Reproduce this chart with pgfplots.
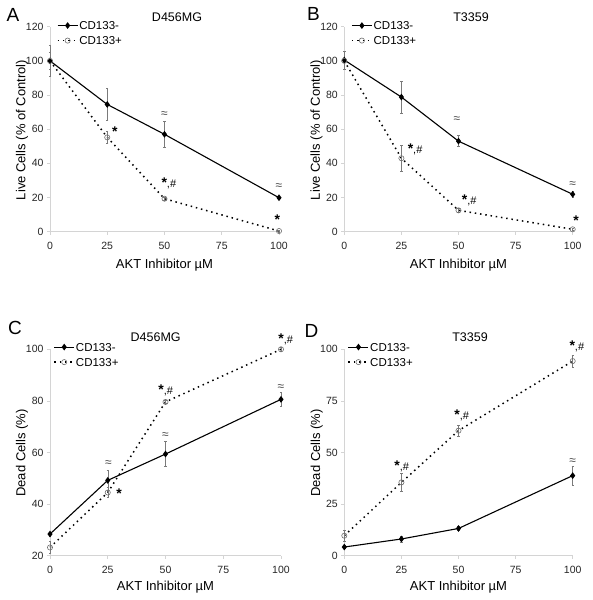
\documentclass[border=0pt]{standalone}
\usepackage{pgfplots}
\pgfplotsset{compat=1.18}
\usepackage{fontspec}
\setmainfont{Liberation Sans}
\definecolor{axgray}{HTML}{D4D4D4}
\definecolor{errgray}{HTML}{7A7A7A}
\definecolor{circgray}{HTML}{6E6E6E}
\newcommand\st{{\fontsize{14}{14}\selectfont\bfseries *}}
\newcommand\sh{\st{\fontsize{11}{11}\selectfont ,\#}}
\newcommand\ap{{\fontsize{12}{12}\selectfont\color{black!70}≈}}
\pgfplotsset{
 panel/.style={
  scale only axis, anchor=south west,
  xmin=0, xmax=100, xtick={0,25,50,75,100},
  axis x line*=bottom, axis y line*=left,
  axis line style={axgray, line width=0.8pt},
  tick style={axgray, line width=0.6pt},
  major tick length=3pt, tick align=outside,
  tick label style={font=\fontsize{10.5}{10.5}\selectfont, text=black!85},
  xticklabel style={yshift=-4pt},
  /pgf/number format/assume math mode=true,
  label style={font=\fontsize{13}{13}\selectfont},
  xlabel={AKT Inhibitor µM},
  clip=false,
  legend cell align=left,
  legend style={draw=none, fill=none, inner sep=0pt, outer sep=0pt,
    font=\fontsize{11.5}{11.5}\selectfont, row sep=5pt,
    nodes={inner sep=1pt, text depth=0pt}},
  legend image code/.code={\draw[mark repeat=2,mark phase=2,##1] plot coordinates {(0pt,0pt)(10pt,0pt)(20pt,0pt)};},
 },
 neg/.style={black, line width=1.1pt, mark=diamond*, mark size=2.5pt, mark options={solid, fill=black}},
 pos/.style={black, line width=1.5pt, dash pattern=on 1.5pt off 3.8pt, mark=o, mark size=2.6pt, mark options={solid, draw=circgray, fill=white, line width=0.6pt}},
 err/.style={error bars/.cd, y dir=both, y explicit, error bar style={errgray, line width=0.5pt, solid}, error mark options={rotate=90, mark size=1.2pt, errgray, line width=0.5pt}},
}
\pgfplotstableread{
x y e
0 100 9
25 74.5 9.5
50 57 7.5
100 19.9 1
}\Aneg
\pgfplotstableread{
x y e
0 100 5
25 55.2 3.6
50 19.3 1
100 0.4 0.5
}\Apos
\pgfplotstableread{
x y e
0 100.5 5.4
25 78.8 9.4
50 53 3.2
100 21.9 1.5
}\Bneg
\pgfplotstableread{
x y e
0 100 1
25 43 7.7
50 12.5 1
100 1.4 0.5
}\Bpos
\pgfplotstableread{
x y e
0 28.4 0.8
25 49.2 4
50 59.4 4.8
100 80.6 2.7
}\Cneg
\pgfplotstableread{
x y e
0 23.2 2.3
25 44.5 2
50 79.6 0.5
100 100 0.8
}\Cpos
\pgfplotstableread{
x y e
0 4.2 0.8
25 8.1 1.5
50 13.2 1
100 38.8 4.5
}\Dneg
\pgfplotstableread{
x y e
0 9.7 2.5
25 35.5 4.4
50 60.6 2.5
100 94.3 3
}\Dpos
\begin{document}
\begin{tikzpicture}[x=1pt,y=1pt]
\useasboundingbox (0pt,0pt) rectangle (592pt,600pt);
% Panel A
\begin{axis}[panel, at={(50pt,368.3pt)}, width=229pt, height=205pt,
  ymin=0, ymax=120, ytick={0,20,40,60,80,100,120},
  ylabel={Live Cells (\% of Control)},
  xlabel style={at={(axis description cs:0.5,-0.162)}, anchor=center},
  ylabel style={at={(axis description cs:-0.122,0.496)}, anchor=center},
  legend style={at={(axis description cs:0.03,1.03)}, anchor=north west}]
\addplot+[neg, err] table[x=x, y=y, y error=e] {\Aneg};
\addlegendentry{CD133-}
\addplot+[pos, err] table[x=x, y=y, y error=e] {\Apos};
\addlegendentry{CD133+}
\node at (axis cs:28.3,58.5) {\st};
\node at (axis cs:51.9,28.3) {\sh};
\node at (axis cs:99.3,6.8) {\st};
\node at (axis cs:50,68.3) {\ap};
\node at (axis cs:100,26.3) {\ap};
\end{axis}
% Panel B
\begin{axis}[panel, at={(344.3pt,368.3pt)}, width=228.4pt, height=205pt,
  ymin=0, ymax=120, ytick={0,20,40,60,80,100,120},
  ylabel={Live Cells (\% of Control)},
  xlabel style={at={(axis description cs:0.5,-0.162)}, anchor=center},
  ylabel style={at={(axis description cs:-0.122,0.496)}, anchor=center},
  legend style={at={(axis description cs:0.03,1.03)}, anchor=north west}]
\addplot+[neg, err] table[x=x, y=y, y error=e] {\Bneg};
\addlegendentry{CD133-}
\addplot+[pos, err] table[x=x, y=y, y error=e] {\Bpos};
\addlegendentry{CD133+}
\node at (axis cs:31,48.2) {\sh};
\node at (axis cs:54.7,18.5) {\sh};
\node at (axis cs:101.5,6.4) {\st};
\node at (axis cs:49.3,65.8) {\ap};
\node at (axis cs:100,27.7) {\ap};
\end{axis}
% Panel C
\begin{axis}[panel, at={(50pt,44.3pt)}, width=231pt, height=206.4pt,
  ymin=20, ymax=100, ytick={20,40,60,80,100},
  ylabel={Dead Cells (\%)},
  xlabel style={at={(axis description cs:0.5,-0.152)}, anchor=center},
  ylabel style={at={(axis description cs:-0.121,0.498)}, anchor=center},
  legend style={at={(axis description cs:0.015,1.035)}, anchor=north west}]
\addplot+[neg, err] table[x=x, y=y, y error=e] {\Cneg};
\addlegendentry{CD133-}
\addplot+[pos, err] table[x=x, y=y, y error=e] {\Cpos};
\addlegendentry{CD133+}
\node at (axis cs:29.9,44.2) {\st};
\node at (axis cs:50.1,84.2) {\sh};
\node at (axis cs:102,103.9) {\sh};
\node at (axis cs:25.3,55.8) {\ap};
\node at (axis cs:50,66.4) {\ap};
\node at (axis cs:100,85.2) {\ap};
\end{axis}
% Panel D
\begin{axis}[panel, at={(344.3pt,44.3pt)}, width=228.4pt, height=206.4pt,
  ymin=0, ymax=100, ytick={0,25,50,75,100},
  ylabel={Dead Cells (\%)},
  xlabel style={at={(axis description cs:0.5,-0.152)}, anchor=center},
  ylabel style={at={(axis description cs:-0.121,0.498)}, anchor=center},
  legend style={at={(axis description cs:0.015,1.035)}, anchor=north west}]
\addplot+[neg, err] table[x=x, y=y, y error=e] {\Dneg};
\addlegendentry{CD133-}
\addplot+[pos, err] table[x=x, y=y, y error=e] {\Dpos};
\addlegendentry{CD133+}
\node at (axis cs:25.1,43.1) {\sh};
\node at (axis cs:51.4,68.2) {\sh};
\node at (axis cs:101.8,101.3) {\sh};
\node at (axis cs:100,45.6) {\ap};
\end{axis}
% titles and panel letters
\node[font=\fontsize{12.5}{12.5}\selectfont] at (177pt,583pt) {D456MG};
\node[font=\fontsize{12.5}{12.5}\selectfont] at (471pt,583pt) {T3359};
\node[font=\fontsize{12.5}{12.5}\selectfont] at (155.7pt,263pt) {D456MG};
\node[font=\fontsize{12.5}{12.5}\selectfont] at (470pt,263pt) {T3359};
\node[font=\fontsize{19}{19}\selectfont] at (13pt,585pt) {A};
\node[font=\fontsize{19}{19}\selectfont] at (313.5pt,586pt) {B};
\node[font=\fontsize{19}{19}\selectfont] at (15pt,272.5pt) {C};
\node[font=\fontsize{19}{19}\selectfont] at (311.5pt,269pt) {D};
\end{tikzpicture}
\end{document}
